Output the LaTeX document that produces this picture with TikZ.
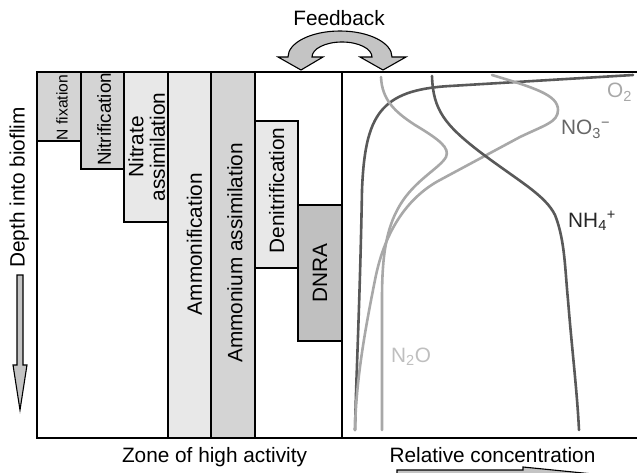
\documentclass[tikz,border=0pt]{standalone}
\usepackage{fontspec}
\setmainfont{Liberation Sans}
\definecolor{barlight}{HTML}{E8E8E8}
\definecolor{barmid}{HTML}{D4D4D4}
\definecolor{bardark}{HTML}{C0C0C0}
\definecolor{arrowgray}{HTML}{C4C4C4}
\definecolor{curvedark}{HTML}{595959}
\definecolor{curvelight}{HTML}{A8A8A8}
\begin{document}
\begin{tikzpicture}[x=1pt,y=-1pt,
  font=\fontsize{20.8}{23}\selectfont,
  barbox/.style={draw=black,line width=1.3pt},
  framel/.style={draw=black,line width=1.5pt},
  vlabel/.style={rotate=90,inner sep=0pt,anchor=center},
  hlabel/.style={inner sep=0pt,anchor=base},
  clabel/.style={inner sep=0pt,anchor=base west},
  fatarrow/.style={draw=black,line width=1.1pt,fill=arrowgray,line join=miter},
  curve/.style={line width=2.6pt,line cap=round}]
\useasboundingbox (0,0) rectangle (637,473);
\clip (0,0) rectangle (637,473);
% bars
\filldraw[barbox,fill=barmid]   (37,72) rectangle (81,141);
\filldraw[barbox,fill=barmid]   (81,72) rectangle (124,169);
\filldraw[barbox,fill=barlight] (124,72) rectangle (168,222);
\filldraw[barbox,fill=barlight] (168,72) rectangle (211,438);
\filldraw[barbox,fill=barmid]   (211,72) rectangle (255,438);
\filldraw[barbox,fill=barlight] (255,121) rectangle (298,268);
\filldraw[barbox,fill=bardark]  (298,205) rectangle (342,341);
% frame
\draw[framel] (637,72) -- (37,72) -- (37,438) -- (637,438);
\draw[framel] (342,72) -- (342,438);
% bar labels
\node[vlabel,font=\fontsize{15.6}{18}\selectfont] (nfix) at (62,107.5) {N fixation};
\node[vlabel,font=\fontsize{18.8}{22}\selectfont] (nitrif) at (104.2,119.5) {Nitrification};
\node[vlabel,align=center,font=\fontsize{20.8}{21.7}\selectfont] (nitrass) at (146.7,147) {Nitrate\\assimilation};
\node[vlabel] (ammonif) at (194.5,244) {Ammonification};
\node[vlabel] (ammass) at (235,253) {Ammonium assimilation};
\node[vlabel] (denitr) at (276.7,190.5) {Denitrification};
\node[vlabel] (dnra) at (320,273.5) {DNRA};
\node[vlabel] (depth) at (19.2,187.5) {Depth into bioflim};
% axis labels
\node[hlabel] (feedback) at (339,25.7) {Feedback};
\node[hlabel] (zone) at (214.5,462) {Zone of high activity};
\node[hlabel] (relconc) at (492.5,462) {Relative concentration};
% feedback arrow
\filldraw[fatarrow] (278,57) -- (301,70) -- (323,57) -- (312,57)
  arc[start angle=180, end angle=360, x radius=30, y radius=15]
  -- (360,57) -- (383,70) -- (406,57) -- (392,57)
  arc[start angle=0, end angle=-180, x radius=52, y radius=26] -- cycle;
% depth arrow
\filldraw[fatarrow] (17,275) -- (23,275) -- (23,365) -- (27,365) -- (20,410)
  -- (13,365) -- (17,365) -- cycle;
% concentration arrow
\filldraw[fatarrow] (397,470) -- (523,470) -- (523,467) -- (593,474)
  -- (523,481) -- (523,478) -- (397,478) -- cycle;
% curves
\draw[curve,curvedark] (633,75) -- (450,86) .. controls (380,90) and (365,115) .. (362,190)
  .. controls (360,300) and (356,380) .. (355,430);
\draw[curve,curvelight] (492,75) .. controls (535,88) and (558,95) .. (558,110)
  .. controls (558,122) and (545,125) .. (520,137) -- (440,180)
  .. controls (410,196) and (385,228) .. (375,280)
  .. controls (365,330) and (356,380) .. (355,430);
\draw[curve,curvelight] (381,77) .. controls (382,100) and (395,112) .. (415,125)
  .. controls (440,140) and (450,148) .. (446,157)
  .. controls (440,168) and (415,180) .. (400,205)
  .. controls (385,230) and (382,260) .. (382,300) -- (382,430);
\draw[curve,curvedark] (432,76) .. controls (433,110) and (445,125) .. (480,152)
  .. controls (520,182) and (545,195) .. (555,215)
  .. controls (565,240) and (565,270) .. (568,300)
  .. controls (572,350) and (577,390) .. (579,430);
% curve labels
\node[clabel,text=curvelight] (o2) at (607,98) {O\textsubscript{2}};
\node[clabel,text=black!60] (no3) at (561,135) {NO\textsubscript{3}\textsuperscript{−}};
\node[clabel,text=black!85] (nh4) at (568,227) {NH\textsubscript{4}\textsuperscript{+}};
\node[clabel,text=black!25] (n2o) at (391,362) {N\textsubscript{2}O};
\end{tikzpicture}
\end{document}
